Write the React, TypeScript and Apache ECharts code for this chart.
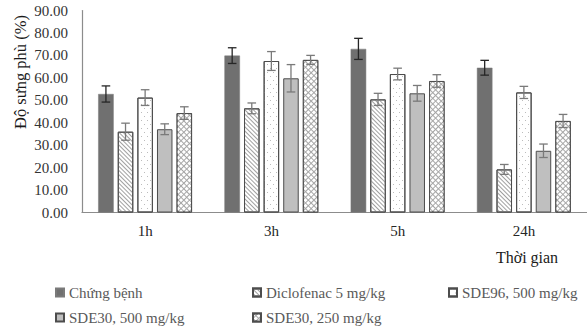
import React, { useEffect, useRef } from "react";
import * as echarts from "echarts";

const categories = ["1h", "3h", "5h", "24h"];
const seriesNames = [
  "Chứng bệnh",
  "Diclofenac 5 mg/kg",
  "SDE96, 500 mg/kg",
  "SDE30, 500 mg/kg",
  "SDE30, 250 mg/kg",
];
const chungBenh = [52.8, 69.9, 72.9, 64.5];
const chungBenhErr = [3.6, 3.5, 4.7, 3.3];
const diclofenac = [36.0, 46.4, 50.4, 19.2];
const diclofenacErr = [3.8, 2.4, 2.7, 2.2];
const sde96_500 = [51.2, 67.5, 61.7, 53.5];
const sde96_500Err = [3.5, 4.2, 2.6, 2.7];
const sde30_500 = [37.1, 59.8, 53.1, 27.5];
const sde30_500Err = [2.4, 6.1, 3.5, 3.0];
const sde30_250 = [44.3, 68.0, 58.6, 40.8];
const sde30_250Err = [2.8, 2.0, 2.8, 2.9];
const yTicks = [0, 10, 20, 30, 40, 50, 60, 70, 80, 90];

const allValues = [chungBenh, diclofenac, sde96_500, sde30_500, sde30_250];
const allErrors = [chungBenhErr, diclofenacErr, sde96_500Err, sde30_500Err, sde30_250Err];

const FONT = "'Liberation Serif', 'Times New Roman', serif";
const BAR_W = 15.5;
const BAR_GAP_PX = 4.1;

const itemStyles: any[] = [
  { color: "#707070", borderColor: "#7a7a7a", borderWidth: 0.5 },
  {
    color: "#ffffff",
    borderColor: "#4d4d4d",
    borderWidth: 1,
    decal: {
      symbol: "rect",
      symbolSize: 1,
      dashArrayX: [1, 0],
      dashArrayY: [0.8, 1.6],
      rotation: Math.PI / 4,
      color: "#a0a0a0",
    },
  },
  {
    color: "#ffffff",
    borderColor: "#4d4d4d",
    borderWidth: 1,
    decal: {
      symbol: "rect",
      symbolSize: 1,
      dashArrayX: [[1, 5], [0, 3, 1, 2]],
      dashArrayY: [1, 3],
      rotation: 0,
      color: "#bcbcbc",
    },
  },
  { color: "#bfbfbf", borderColor: "#4d4d4d", borderWidth: 1 },
  {
    color: "#a6a6a6",
    borderColor: "#4d4d4d",
    borderWidth: 1,
    decal: {
      symbol: "rect",
      symbolSize: 1,
      dashArrayX: [2.8, 1],
      dashArrayY: [2.8, 1],
      rotation: Math.PI / 4,
      color: "#ffffff",
    },
  },
];

export default function App() {
  const ref = useRef<HTMLDivElement>(null);

  useEffect(() => {
    if (!ref.current) return;
    const chart = echarts.init(ref.current, undefined, { renderer: "svg" });

    const barSeries = seriesNames.map((name, i) => ({
      name,
      type: "bar",
      data: allValues[i],
      barWidth: BAR_W,
      barGap: (BAR_GAP_PX / BAR_W) * 100 + "%",
      itemStyle: itemStyles[i],
      emphasis: { disabled: true },
    }));

    const errData: any[] = [];
    allValues.forEach((vals, s) => {
      vals.forEach((v, c) => {
        errData.push([c, s, v - allErrors[s][c], v + allErrors[s][c]]);
      });
    });

    const errSeries = {
      name: "error",
      type: "custom",
      z: 10,
      silent: true,
      data: errData,
      encode: { x: 0, y: [2, 3] },
      renderItem: (params: any, api: any) => {
        const c = api.value(0);
        const s = api.value(1);
        const lo = api.coord([c, api.value(2)]);
        const hi = api.coord([c, api.value(3)]);
        const offset = (s - 2) * (BAR_W + BAR_GAP_PX);
        const x = lo[0] + offset;
        const cap = 4.3;
        const stroke = s === 0 ? "#262626" : "#7a7a7a";
        const st = { stroke, lineWidth: 1.3 };
        return {
          type: "group",
          children: [
            { type: "line", shape: { x1: x, y1: lo[1], x2: x, y2: hi[1] }, style: st },
            { type: "line", shape: { x1: x - cap, y1: lo[1], x2: x + cap, y2: lo[1] }, style: st },
            { type: "line", shape: { x1: x - cap, y1: hi[1], x2: x + cap, y2: hi[1] }, style: st },
          ],
        };
      },
    };

    const legendPos = [
      { left: 55, top: 285 },
      { left: 252, top: 285 },
      { left: 448, top: 285 },
      { left: 55, top: 310 },
      { left: 252, top: 310 },
    ];

    chart.setOption({
      animation: false,
      backgroundColor: "#ffffff",
      grid: { left: 82, top: 10.5, width: 508, height: 202 },
      xAxis: {
        type: "category",
        data: categories,
        axisLine: { show: true, lineStyle: { color: "#8c8c8c", width: 1.2 } },
        axisTick: { show: false },
        axisLabel: { color: "#262626", fontSize: 15, fontFamily: FONT, margin: 11 },
        splitLine: { show: false },
      },
      yAxis: {
        type: "value",
        min: yTicks[0],
        max: yTicks[yTicks.length - 1],
        interval: yTicks[1] - yTicks[0],
        axisLine: { show: true, lineStyle: { color: "#8c8c8c", width: 1.2 } },
        axisTick: { show: false },
        splitLine: { show: false },
        axisLabel: {
          color: "#333333",
          fontSize: 15,
          fontFamily: FONT,
          margin: 14,
          formatter: (v: number) => v.toFixed(2),
        },
      },
      legend: seriesNames.map((n, i) => ({
        data: [n],
        left: legendPos[i].left,
        top: legendPos[i].top,
        padding: 0,
        itemWidth: 8,
        itemHeight: 8,
        itemGap: 0,
        selectedMode: false,
        icon: "rect",
        textStyle: { color: "#595959", fontSize: 15, fontFamily: FONT, padding: [0, 0, 0, 0] },
      })),
      graphic: [
        {
          type: "text",
          x: 20,
          y: 72,
          rotation: Math.PI / 2,
          style: {
            text: "Độ sưng phù (%)",
            fontSize: 16.5,
            fontFamily: FONT,
            fill: "#1a1a1a",
            align: "center",
            verticalAlign: "middle",
          },
        },
        {
          type: "text",
          x: 527,
          y: 257,
          style: {
            text: "Thời gian",
            fontSize: 16,
            fontFamily: FONT,
            fill: "#1a1a1a",
            align: "center",
            verticalAlign: "middle",
          },
        },
      ],
      series: [...barSeries, errSeries],
    });

    return () => chart.dispose();
  }, []);

  return (
    <div
      ref={ref}
      style={{ position: "absolute", left: 0, top: 0, width: 587, height: 327, background: "#fff" }}
    />
  );
}
